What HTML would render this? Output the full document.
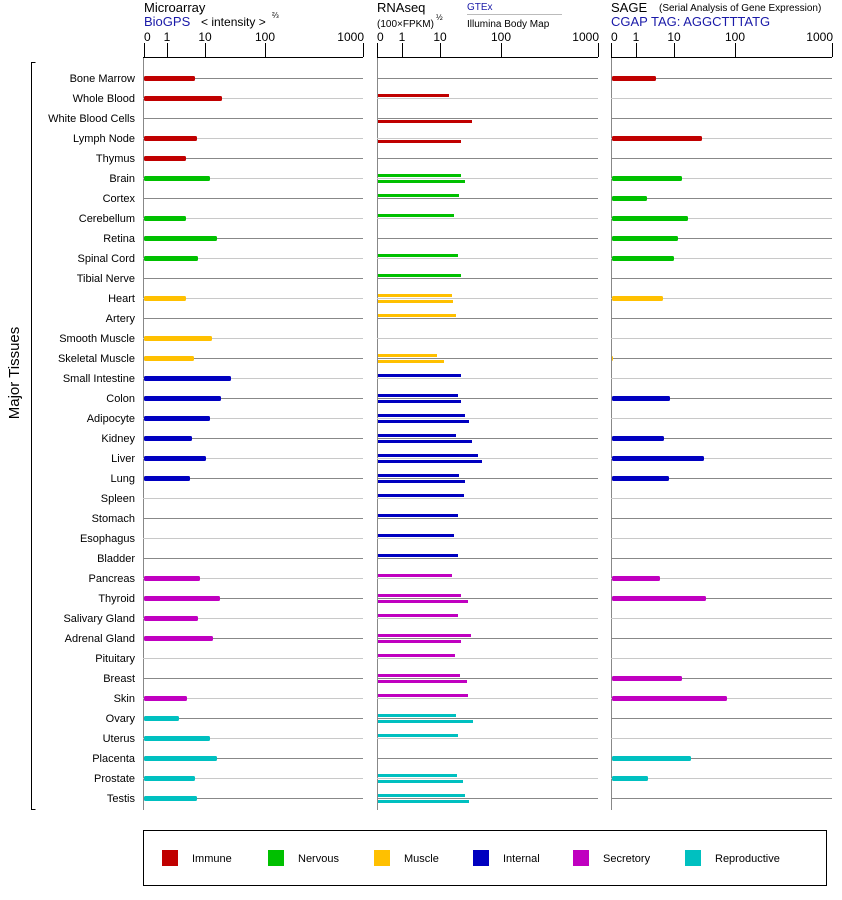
<!DOCTYPE html>
<html><head><meta charset="utf-8"><style>
html,body{margin:0;padding:0;background:#fff;}
svg{display:block;font-family:"Liberation Sans",sans-serif;}
</style></head><body>
<svg id="s" width="842" height="900" xmlns="http://www.w3.org/2000/svg">
<text x="144" y="12" font-size="13">Microarray</text>
<text x="144" y="26" font-size="13" fill="#1a1aa8">BioGPS</text>
<text x="201" y="26" font-size="12">&lt; intensity &gt;</text>
<text x="272" y="18" font-size="8">⅔</text>
<text x="377" y="12" font-size="13">RNAseq</text>
<text x="377" y="27" font-size="10">(100×FPKM)</text>
<text x="436" y="20" font-size="8">½</text>
<text x="467" y="10" font-size="10" fill="#1a1aa8">GTEx</text>
<line x1="467" y1="14.5" x2="562" y2="14.5" stroke="#bbb"/>
<text x="467" y="27" font-size="10">Illumina Body Map</text>
<text x="611" y="12" font-size="13">SAGE</text>
<text x="659" y="11" font-size="10">(Serial Analysis of Gene Expression)</text>
<text x="611" y="26" font-size="13" fill="#1a1aa8">CGAP TAG: AGGCTTTATG</text>
<g id="g"></g>
<path d="M35.5 62.5 H31.5 V809.5 H35.5" fill="none" stroke="#000"/>
<text transform="translate(19,373) rotate(-90)" font-size="15" text-anchor="middle">Major Tissues</text>
<rect x="143.5" y="830.5" width="683" height="55" fill="none" stroke="#000"/>
<rect x="162" y="850" width="16" height="16" fill="#c00000"/><text x="192" y="862" font-size="11">Immune</text>
<rect x="268" y="850" width="16" height="16" fill="#00c000"/><text x="298" y="862" font-size="11">Nervous</text>
<rect x="374" y="850" width="16" height="16" fill="#ffc000"/><text x="404" y="862" font-size="11">Muscle</text>
<rect x="473" y="850" width="16" height="16" fill="#0000c0"/><text x="503" y="862" font-size="11">Internal</text>
<rect x="573" y="850" width="16" height="16" fill="#c000c0"/><text x="603" y="862" font-size="11">Secretory</text>
<rect x="685" y="850" width="16" height="16" fill="#00c0c0"/><text x="715" y="862" font-size="11">Reproductive</text>
</svg>
<script>
var names=["Bone Marrow","Whole Blood","White Blood Cells","Lymph Node","Thymus","Brain","Cortex","Cerebellum","Retina","Spinal Cord","Tibial Nerve","Heart","Artery","Smooth Muscle","Skeletal Muscle","Small Intestine","Colon","Adipocyte","Kidney","Liver","Lung","Spleen","Stomach","Esophagus","Bladder","Pancreas","Thyroid","Salivary Gland","Adrenal Gland","Pituitary","Breast","Skin","Ovary","Uterus","Placenta","Prostate","Testis"];
var cat=[0,0,0,0,0,1,1,1,1,1,1,2,2,2,2,3,3,3,3,3,3,3,3,3,3,4,4,4,4,4,4,4,5,5,5,5,5];
var col=["#c00000","#00c000","#ffc000","#0000c0","#c000c0","#00c0c0"];
var m=[195,222,0,197,186,210,0,186,217,198,0,186,0,212,194,231,221,210,192,206,190,0,0,0,0,200,220,198,213,0,0,187,179,210,217,195,197];
var r=[[0,0],[449,0],[0,472],[0,461],[0,0],[461,465],[459,0],[454,0],[0,0],[458,0],[461,0],[452,453],[456,0],[0,0],[437,444],[461,0],[458,461],[465,469],[456,472],[478,482],[459,465],[464,0],[458,0],[454,0],[458,0],[452,0],[461,468],[458,0],[471,461],[455,0],[460,467],[468,0],[456,473],[458,0],[0,0],[457,463],[465,469]];
var sg=[656,0,0,702,0,682,647,688,678,674,0,663,0,0,613,0,670,0,664,704,669,0,0,0,0,660,706,0,0,0,682,727,0,0,691,648,0];
var h='';
var P=[[143,363,[144,167,205,265,363]],[377,598,[377,402,440,501,598]],[611,832,[611,636,674,735,832]]];
var tl=["0","1","10","100","1000"];
P.forEach(function(p){
 h+='<line x1="'+p[0]+'.5" y1="57" x2="'+p[0]+'.5" y2="810" stroke="#888"/>';
 h+='<line x1="'+p[0]+'" y1="57.5" x2="'+p[1]+'" y2="57.5" stroke="#000"/>';
 p[2].forEach(function(x,i){h+='<line x1="'+(x+.5)+'" y1="43" x2="'+(x+.5)+'" y2="57" stroke="#000"/>';
  var a=i==0?'start':(i==4?'end':'middle');var xx=i==0?x:(i==4?x+1:x);
  h+='<text x="'+xx+'" y="41" font-size="12" text-anchor="'+a+'">'+tl[i]+'</text>';});
});
for(var i=0;i<37;i++){var y=78+20*i;var st=i%2==0?'#888':'#c8c8c8';
 h+='<text x="135" y="'+(y+4)+'" font-size="11" text-anchor="end">'+names[i]+'</text>';
 P.forEach(function(p){h+='<line x1="'+p[0]+'" y1="'+(y+.5)+'" x2="'+p[1]+'" y2="'+(y+.5)+'" stroke="'+st+'"/>';});
 var c=col[cat[i]];
 if(m[i])h+='<rect x="144" y="'+(y-2)+'" width="'+(m[i]-144)+'" height="5" rx="1.5" fill="'+c+'"/>';
 if(sg[i])h+='<rect x="612" y="'+(y-2)+'" width="'+(sg[i]-612)+'" height="5" rx="1.5" fill="'+c+'"/>';
 if(r[i][0])h+='<rect x="378" y="'+(y-4)+'" width="'+(r[i][0]-378)+'" height="3" fill="'+c+'"/>';
 if(r[i][1])h+='<rect x="378" y="'+(y+2)+'" width="'+(r[i][1]-378)+'" height="3" fill="'+c+'"/>';
}
document.getElementById('g').innerHTML=h;
</script>
</body></html>
